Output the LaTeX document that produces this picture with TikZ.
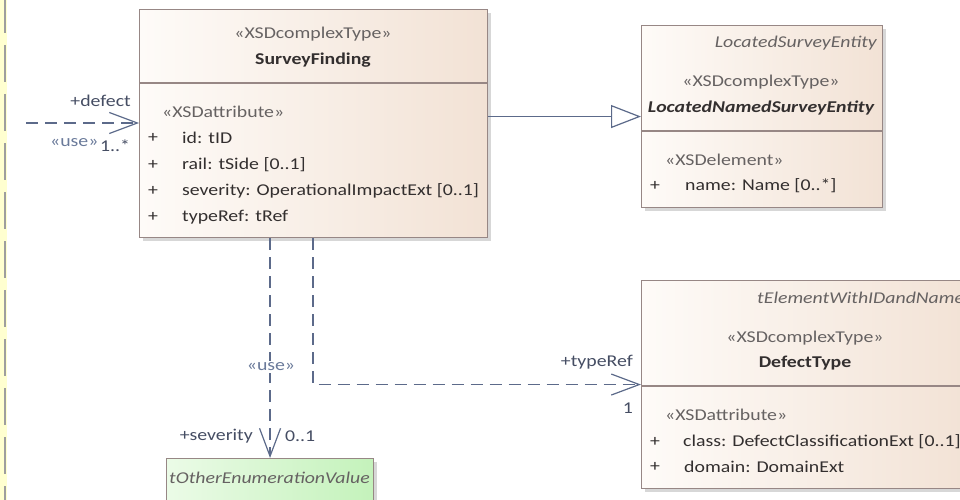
\documentclass[tikz,border=0pt]{standalone}
\usepackage{fontspec}
\setmainfont{Carlito}[FakeStretch=1.2]
\usetikzlibrary{arrows.meta,shadows,calc}
\definecolor{boxL}{HTML}{FEFBF8}
\definecolor{boxR}{HTML}{F2E2D5}
\definecolor{boxB}{HTML}{978785}
\definecolor{grnL}{HTML}{EBFBE7}
\definecolor{grnR}{HTML}{C4F2BB}
\definecolor{connC}{HTML}{5C6A8A}
\definecolor{txtC}{HTML}{332F2F}
\definecolor{sterC}{HTML}{666262}
\definecolor{lblC}{HTML}{454D63}
\definecolor{useC}{HTML}{6A7A9A}
\definecolor{stripC}{HTML}{FFFFD0}
\newcommand{\fsz}{\fontsize{16.5}{18}\selectfont}
\begin{document}
\begin{tikzpicture}[x=1pt,y=-1pt,
  umlbox/.style={draw=boxB, line width=1.1pt, left color=boxL, right color=boxR,
    drop shadow={shadow xshift=3pt, shadow yshift=-3pt, fill=black!35, opacity=0.45},
    anchor=north west, inner sep=0pt},
  grnbox/.style={umlbox, left color=grnL, right color=grnR},
  divider/.style={draw=boxB, line width=1.1pt},
  txt/.style={font=\fsz, text=txtC, inner sep=0pt},
  ster/.style={txt, text=sterC},
  ttl/.style={txt, font=\fsz\bfseries},
  ital/.style={ster, font=\fsz\itshape},
  lbl/.style={txt, text=lblC},
  uselbl/.style={txt, text=useC},
  conn/.style={draw=connC, line width=1.2pt},
  dep/.style={conn, dash pattern=on 12pt off 7pt},
  barb/.style={-{Straight Barb[length=28pt,width=21pt,line width=1.2pt]}},
  gen/.style={conn, -{Triangle[open,length=30pt,width=23pt,line width=1.2pt,fill=white]}}
]
\useasboundingbox (0,0) rectangle (960,500);
\clip (0,0) rectangle (960,500);
% left swimlane edge
\fill[stripC] (0,0) rectangle (7,500);
\draw[black!38, line width=2pt, dash pattern=on 37pt off 12pt] (5,-4) -- (5,504);

% boxes
\node[umlbox, minimum width=348pt, minimum height=228pt] (sf) at (139,9) {};
\node[umlbox, minimum width=241pt, minimum height=182pt] (lnse) at (641,25) {};
\node[umlbox, minimum width=329pt, minimum height=208pt] (dt) at (641,280) {};
\node[grnbox, minimum width=207pt, minimum height=62pt] (toev) at (166,458) {};

% dividers
\draw[divider] (139,83) -- (487,83);
\draw[divider] (641,131) -- (882,131);
\draw[divider] (641,386) -- (970,386);

% SurveyFinding text
\node[ster] (sf1) at (313,34) {«XSDcomplexType»};
\node[ttl] (sf2) at (313,60) {SurveyFinding};
\node[ster, anchor=west] (sf3) at (162,112) {«XSDattribute»};
\foreach \y/\t [count=\i] in {138/{id: tID},165/{rail: tSide [0..1]},191/{severity: OperationalImpactExt [0..1]},217/{typeRef: tRef}}{
  \node[txt] (sfp\i) at (153,\y) {+};
  \node[txt, anchor=west] (sfa\i) at (182,\y) {\t};
}

% LocatedNamedSurveyEntity text
\node[ital, anchor=east] (ln0) at (877,43) {LocatedSurveyEntity};
\node[ster] (ln1) at (761,82) {«XSDcomplexType»};
\node[ttl, font=\fsz\bfseries\itshape] (ln2) at (761,108) {LocatedNamedSurveyEntity};
\node[ster, anchor=west] (ln3) at (665,160) {«XSDelement»};
\node[txt] (lnp1) at (655,186) {+};
\node[txt, anchor=west] (lna1) at (685,186) {name: Name [0..*]};

% DefectType text
\node[ital, anchor=west] (dt0) at (757,298) {tElementWithIDandName};
\node[ster] (dt1) at (805,338) {«XSDcomplexType»};
\node[ttl] (dt2) at (805,363) {DefectType};
\node[ster, anchor=west] (dt3) at (665,415) {«XSDattribute»};
\node[txt] (dtp1) at (655,442) {+};
\node[txt, anchor=west] (dta1) at (683,442) {class: DefectClassificationExt [0..1]};
\node[txt] (dtp2) at (655,467) {+};
\node[txt, anchor=west] (dta2) at (684,467) {domain: DomainExt};

% tOtherEnumerationValue
\node[ital] (te) at (269.5,478) {tOtherEnumerationValue};

% connectors
\coordinate (defS) at (26,123);
\draw[dep, barb] (defS) -- (defS -| sf.west);
\draw[gen] (sf.east |- lnse.west) -- (lnse.west);
\coordinate (trx) at (313,0);
\draw[dep, barb] (trx |- sf.south) -- (trx |- dt.west) -- (dt.west);
\draw[dep, barb] (toev.north |- sf.south) -- (toev.north);

% connector labels
\node[lbl, anchor=east] (l1) at (131,101) {+defect};
\node[uselbl, anchor=west] (l2) at (50,143) {«use»};
\node[lbl, anchor=west] (l3) at (100,146) {1..*};
\node[lbl, anchor=east] (l4) at (633,362) {+typeRef};
\node[lbl] (l5) at (628,408) {1};
\node[uselbl, fill=white, inner sep=2pt] (l6) at (271,367) {«use»};
\node[lbl, anchor=east] (l7) at (253,436) {+severity};
\node[lbl, anchor=west] (l8) at (285,436) {0..1};
\end{tikzpicture}
\end{document}
